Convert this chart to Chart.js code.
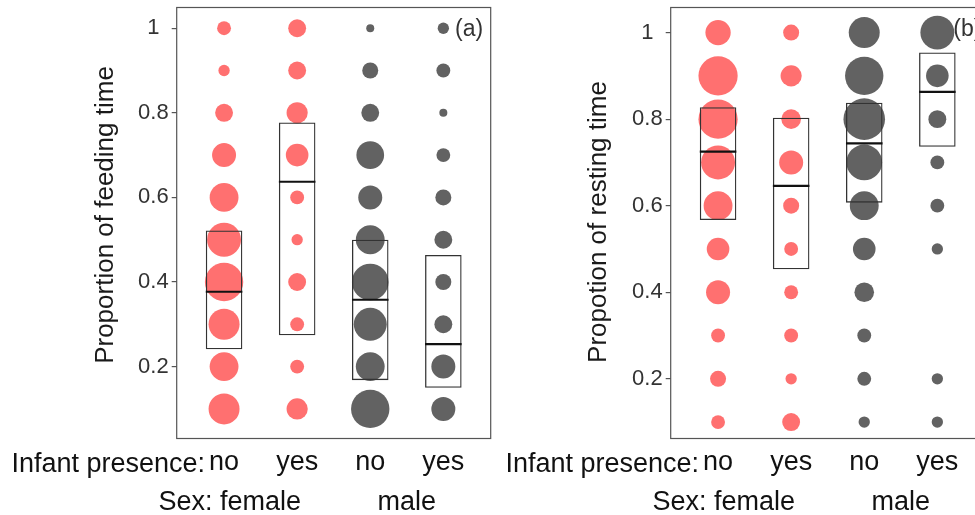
<!DOCTYPE html>
<html><head><meta charset="utf-8">
<script src="https://cdn.jsdelivr.net/npm/chart.js@4"></script>
<style>
html,body{margin:0;padding:0;width:975px;height:515px;overflow:hidden;background:#fff}
.p{position:absolute;top:0;width:500px;height:515px}
#pa{left:0}
#pb{left:490px}
</style></head><body>
<div class="p" id="pa"><canvas id="ca"></canvas></div>
<div class="p" id="pb"><canvas id="cb"></canvas></div>
<script>
// ---------- data ----------
const groups = ['female / no', 'female / yes', 'male / no', 'male / yes'];
const groupSex = ['female', 'female', 'male', 'male'];
const infantLabels = ['no', 'yes', 'no', 'yes'];
const sexLabels = ['female', 'male'];
const proportionLevels = [0.1, 0.2, 0.3, 0.4, 0.5, 0.6, 0.7, 0.8, 0.9, 1.0];
const yTickValues = [0.2, 0.4, 0.6, 0.8, 1];
const yTickLabels = ['0.2', '0.4', '0.6', '0.8', '1'];

// (a) feeding: number of observations at each proportion level (0.1 ... 1.0)
const feedFemaleNo  = [15, 13, 15, 23, 18, 13, 9, 5, 2, 3];
const feedFemaleYes = [7, 3, 3, 5, 2, 3, 8, 7, 5, 5];
const feedMaleNo    = [23, 13, 17, 21, 13, 9, 12, 5, 4, 1];
const feedMaleYes   = [9, 9, 5, 4, 5, 4, 3, 1, 3, 2];
const feedBoxLow  = [0.241, 0.274, 0.168, 0.150];
const feedBoxHigh = [0.522, 0.777, 0.500, 0.464];
const feedBoxMid  = [0.377, 0.637, 0.358, 0.253];

// (b) resting
const restFemaleNo  = [3, 4, 3, 9, 8, 13, 18, 24, 24, 10];
const restFemaleYes = [5, 2, 3, 3, 3, 4, 9, 6, 7, 4];
const restMaleNo    = [2, 3, 3, 6, 8, 13, 20, 27, 23, 15];
const restMaleYes   = [2, 2, null, null, 2, 3, 3, 5, 8, 18];
const restBoxLow  = [0.567, 0.453, 0.607, 0.736];
const restBoxHigh = [0.8275, 0.8035, 0.838, 0.954];
const restBoxMid  = [0.725, 0.646, 0.744, 0.863];

// ---------- style ----------
const FONT = '"Liberation Sans", Arial, Helvetica, sans-serif';
const RED = '#ff7070';
const GREY = '#626262';
const sizeOf = n => 4 * Math.sqrt(n);
const BOX_FRACTION = 0.5;

const noPad = s => { s.paddingTop = 0; s.paddingBottom = 0; s.paddingLeft = 0; s.paddingRight = 0; };

const ggText = {
  id: 'ggText',
  afterDraw(chart, args, o) {
    const {ctx, chartArea: a, scales: {x}} = chart;
    ctx.save();
    ctx.strokeStyle = '#555';
    ctx.lineWidth = 1.2;
    ctx.strokeRect(a.left, a.top, a.right - a.left, a.bottom - a.top);
    // y title
    ctx.fillStyle = '#1a1a1a';
    ctx.font = '26px ' + FONT;
    ctx.save();
    ctx.translate(a.left - o.titleOffset, o.titleY);
    ctx.rotate(-Math.PI / 2);
    ctx.textAlign = 'center';
    ctx.textBaseline = 'middle';
    ctx.fillText(o.title, 0, 0);
    ctx.restore();
    // panel tag
    ctx.fillStyle = '#333';
    ctx.font = '23px ' + FONT;
    ctx.textAlign = 'left';
    ctx.textBaseline = 'middle';
    ctx.fillText(o.tag, a.right - o.tagOffset, 30);
    // bottom strip labels
    ctx.fillStyle = '#111';
    ctx.font = '27px ' + FONT;
    ctx.textBaseline = 'alphabetic';
    ctx.textAlign = 'right';
    ctx.fillText('Infant presence:', x.getPixelForValue(1) - 19, 472);
    const fw = ctx.measureText(sexLabels[0]).width;
    const sw = ctx.measureText(' ').width;
    ctx.fillText('Sex:', x.getPixelForValue(1.5) - fw / 2 - sw, 510);
    ctx.textAlign = 'center';
    ctx.fillText(sexLabels[0], x.getPixelForValue(1.5), 510);
    ctx.fillText(sexLabels[1], x.getPixelForValue(3.5), 510);
    ctx.restore();
  }
};

function makePanel(canvasId, counts, low, high, mid, yMin, yMax, yAxisWidth, padRight, text) {
  const bubbleSets = counts.map((arr, gi) => ({
    type: 'scatter',
    label: groups[gi],
    order: 3,
    data: proportionLevels
      .map((y, i) => ({x: gi + 1, y: y, n: arr[i]}))
      .filter(d => d.n != null),
    backgroundColor: groupSex[gi] === 'female' ? RED : GREY,
    borderWidth: 0,
    pointRadius: c => sizeOf(c.raw.n),
    pointHoverRadius: c => sizeOf(c.raw.n)
  }));
  const boxSet = {
    type: 'bar',
    label: 'box',
    order: 2,
    data: groups.map((g, i) => ({x: i + 1, y: [low[i], high[i]]})),
    backgroundColor: 'rgba(0,0,0,0)',
    borderColor: '#333',
    borderWidth: 1.3,
    borderSkipped: false,
    barPercentage: BOX_FRACTION,
    categoryPercentage: 1,
    grouped: false
  };
  const midSet = {
    type: 'scatter',
    label: 'median',
    order: 1,
    data: groups.map((g, i) => ({x: i + 1, y: mid[i]})),
    pointStyle: 'line',
    borderColor: '#111',
    borderWidth: 2.2,
    pointRadius: c => {
      const s = c.chart.scales.x;
      return Math.abs(s.getPixelForValue(1 + BOX_FRACTION / 2) - s.getPixelForValue(1));
    }
  };
  return new Chart(document.getElementById(canvasId), {
    type: 'scatter',
    data: {datasets: [...bubbleSets, boxSet, midSet]},
    plugins: [ggText],
    options: {
      responsive: true,
      maintainAspectRatio: false,
      animation: false,
      events: [],
      layout: {autoPadding: false, padding: {left: 0, top: 7.5, right: padRight, bottom: 0}},
      plugins: {legend: {display: false}, tooltip: {enabled: false}, ggText: text},
      scales: {
        x: {
          type: 'linear', min: 0.352, max: 4.648, offset: false,
          grid: {display: false, drawTicks: false, offset: false},
          border: {display: false},
          afterBuildTicks: s => { s.ticks = infantLabels.map((l, i) => ({value: i + 1})); },
          afterFit: s => { s.height = 515 - 438.5; noPad(s); },
          ticks: {
            autoSkip: false, maxRotation: 0, padding: 8,
            color: '#111', font: {family: FONT, size: 27},
            callback: (v, i) => infantLabels[i]
          }
        },
        y: {
          type: 'linear', min: yMin, max: yMax, beginAtZero: false,
          grid: {drawOnChartArea: false, drawTicks: true, tickLength: 5, color: '#555', lineWidth: 1.2},
          border: {display: false},
          afterBuildTicks: s => { s.ticks = yTickValues.map(v => ({value: v})); },
          afterFit: s => { s.width = yAxisWidth; noPad(s); },
          ticks: {
            crossAlign: 'center', padding: 3,
            color: '#333', font: {family: FONT, size: 22},
            callback: (v, i) => yTickLabels[i]
          }
        }
      }
    }
  });
}

makePanel('ca', [feedFemaleNo, feedFemaleYes, feedMaleNo, feedMaleYes],
  feedBoxLow, feedBoxHigh, feedBoxMid, 0.030, 1.049, 176.7, 9.3,
  {title: 'Proportion of feeding time', titleOffset: 70.7, titleY: 215, tag: '(a)', tagOffset: 35.7});
makePanel('cb', [restFemaleNo, restFemaleYes, restMaleNo, restMaleYes],
  restBoxLow, restBoxHigh, restBoxMid, 0.062, 1.058, 180.7, 5.3,
  {title: 'Propotion of resting time', titleOffset: 71.7, titleY: 222, tag: '(b)', tagOffset: 31.4});
</script>
</body></html>
